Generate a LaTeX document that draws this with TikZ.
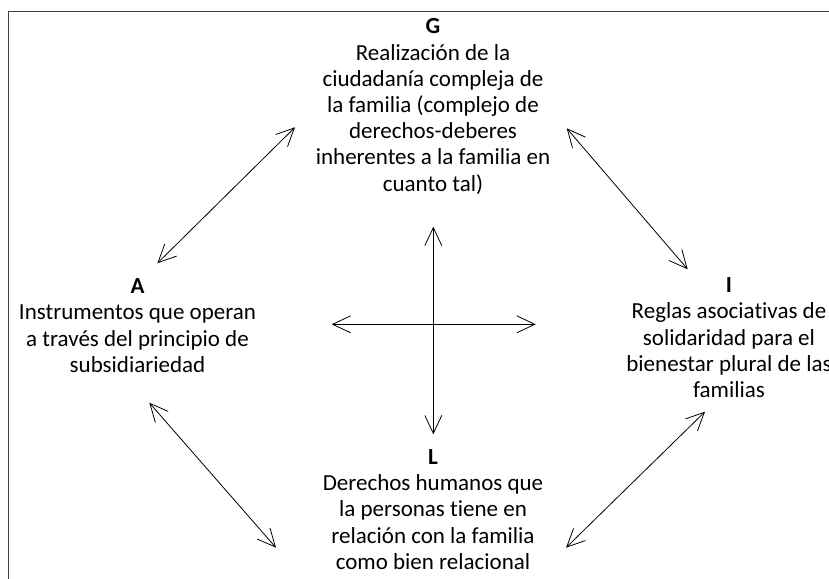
\documentclass[tikz,border=0pt]{standalone}
\usepackage{fontspec}
\setmainfont{Carlito}[Ligatures=CommonOff]
\usetikzlibrary{arrows.meta}

\begin{document}
\begin{tikzpicture}[x=1pt, y=-1pt,
		>={Straight Barb[length=18pt,width=17pt]},
		bloque/.style={align=center, anchor=north, inner sep=0pt, font=\fontsize{23}{26.2}\selectfont},
		flecha/.style={<->, line width=.8pt}]
	\useasboundingbox (0,0) rectangle (829,578);
	\draw[line width=.9pt, black!75] (8,11.7) rectangle (900,650);

	\node[bloque] (g) at (433,18.6) {\textbf{G}\\Realización de la\\ciudadanía compleja de\\la familia (complejo de\\derechos-deberes\\inherentes a la familia en\\cuanto tal)};
	\node[bloque] (a) at (137.5,278.6) {\textbf{A}\\Instrumentos que operan\\a través del principio de\\subsidiariedad};
	\node[bloque] (i) at (729,277.6) {\textbf{I}\\Reglas asociativas de\\solidaridad para el\\bienestar plural de las\\familias};
	\node[bloque] (l) at (433,449.3) {\textbf{L}\\Derechos humanos que\\la personas tiene en\\relación con la familia\\como bien relacional};

	% extremos de las flechas
	\coordinate (ga) at (295,127.3);
	\coordinate (ag) at (157.3,263.3);
	\coordinate (gi) at (566.7,128.3);
	\coordinate (ig) at (687.7,269.3);
	\coordinate (al) at (149.3,402.7);
	\coordinate (la) at (276,547.7);
	\coordinate (il) at (705,411.7);
	\coordinate (li) at (566,547.7);
	\draw[flecha] (ga) -- (ag);
	\draw[flecha] (gi) -- (ig);
	\draw[flecha] (al) -- (la);
	\draw[flecha] (il) -- (li);

	% cruz central
	\coordinate (arriba) at (433.3,226.7);
	\coordinate (abajo) at (433.3,434.3);
	\coordinate (izq) at (331.7,324.3);
	\coordinate (der) at (535.7,324.3);
	\draw[flecha] (arriba) -- (abajo);
	\draw[flecha] (izq) -- (der);
\end{tikzpicture}
\end{document}
